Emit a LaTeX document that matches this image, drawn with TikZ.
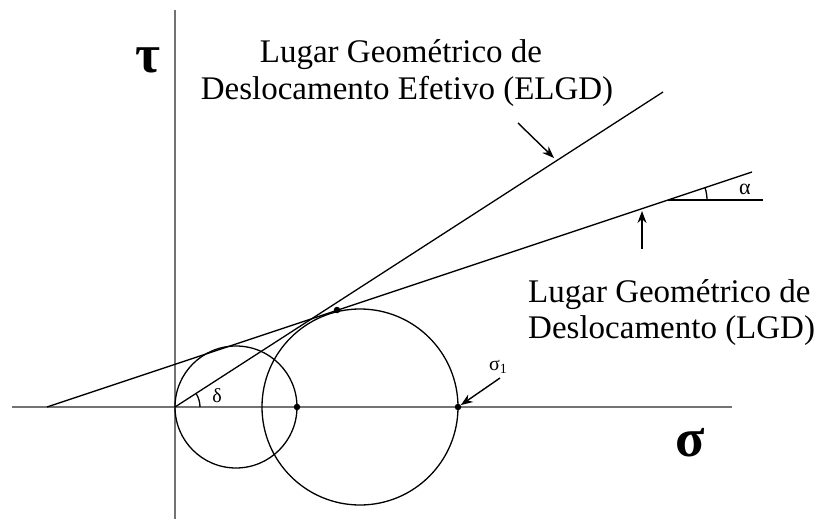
\documentclass[tikz,border=0pt]{standalone}
\usepackage{fontspec}
\setmainfont{Liberation Serif}
\usetikzlibrary{arrows.meta}
\tikzset{
  axisline/.style={draw=black!55, line width=2.2pt},
  geoline/.style={draw=black, line width=1.3pt},
  pointer/.style={draw=black, line width=1.4pt, -{Stealth[length=12pt,width=9pt]}},
  dotpt/.style={circle, fill=black, inner sep=0pt, minimum size=6.5pt},
  bigtxt/.style={font=\fontsize{33}{36}\selectfont, inner sep=0pt, anchor=base},
  axlbl/.style={font=\fontsize{54}{54}\selectfont\bfseries, inner sep=0pt},
  smalltxt/.style={font=\fontsize{20}{20}\selectfont, inner sep=0pt}
}
\begin{document}
\begin{tikzpicture}[x=1pt,y=-1pt]
\path[use as bounding box] (0,0) rectangle (816,521);
% axes
\coordinate (xl) at (12,407);
\coordinate (xr) at (732,407);
\coordinate (yt) at (175,10);
\coordinate (yb) at (175,519);
\coordinate (O) at (175,407);
\draw[axisline] (xl) -- (xr);
\draw[axisline] (yt) -- (yb);
% circles
\coordinate (c1) at (236,407);
\coordinate (c2) at (360,407);
\draw[geoline] (c1) circle[radius=61];
\draw[geoline] (c2) circle[radius=98];
% lines
\coordinate (lgdA) at (47,407);
\coordinate (lgdB) at (752,172);
\coordinate (elgdB) at (663,92);
\draw[geoline] (lgdA) -- (lgdB);
\draw[geoline] (O) -- (elgdB);
% alpha reference
\coordinate (aV) at (668,200);
\coordinate (aR) at (763,200);
\draw[geoline] (aV) -- (aR);
\draw[geoline] ([shift={(0:39)}]aV) arc[start angle=0, end angle=-18.43, radius=39];
\node[smalltxt, font=\fontsize{22}{22}\selectfont] (alpha) at (745,189) {α};
% delta
\draw[geoline] ([shift={(0:25)}]O) arc[start angle=0, end angle=-32.8, radius=25];
\node[smalltxt] (delta) at (217,396) {δ};
% dots
\node[dotpt] (p1) at (297,407) {};
\node[dotpt] (p2) at (458,407) {};
\node[dotpt] (p3) at (337,310) {};
% sigma1
\node[smalltxt, anchor=base west] (s1) at (489,370) {σ\textsubscript{1}};
\coordinate (s1tail) at (500,378);
\draw[pointer] (s1tail) -- (p2);
% labels
\node[bigtxt] (elgd1) at (401,63) {Lugar Geométrico de};
\node[bigtxt] (elgd2) at (407,100) {Deslocamento Efetivo (ELGD)};
\node[bigtxt, anchor=base west] (lgd1) at (528,302) {Lugar Geométrico de};
\node[bigtxt, anchor=base west] (lgd2) at (528,338) {Deslocamento (LGD)};
\coordinate (ea1) at (518,123);
\coordinate (ea2) at (554,158);
\draw[pointer] (ea1) -- (ea2);
\coordinate (la1) at (642,249);
\coordinate (la2) at (642,211);
\draw[pointer] (la1) -- (la2);
% axis labels
\node[axlbl] (tau) at (148,60) {τ};
\node[axlbl] (sigma) at (690,443) {σ};
\end{tikzpicture}
\end{document}
